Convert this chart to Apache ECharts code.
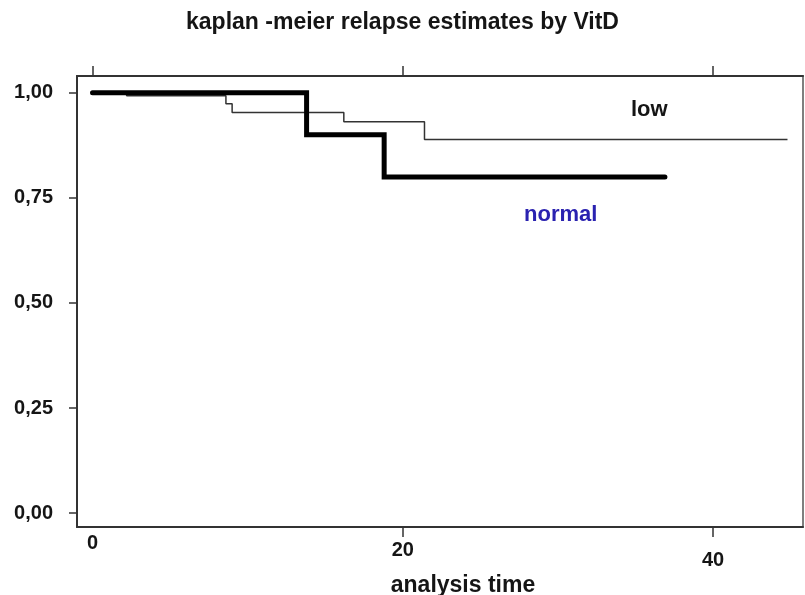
<!DOCTYPE html>
<html>
<head>
<meta charset="utf-8">
<script src="https://cdn.jsdelivr.net/npm/echarts@6/dist/echarts.min.js"></script>
<style>
  html, body { margin: 0; padding: 0; background: #fff; }
  #chart { width: 805px; height: 595px; }
</style>
</head>
<body>
<div id="chart"></div>
<script>
// survival estimates: [time, survival]
const lowCurve = [[0, 1], [2.2, 0.993], [8.6, 0.974], [9.0, 0.953], [16.2, 0.931], [21.4, 0.889], [44.8, 0.889]]
const normalCurve = [[0, 1], [13.8, 0.90], [18.8, 0.80], [36.9, 0.80]]
const xTicks = [0, 20, 40]
const yTicks = [0, 0.25, 0.5, 0.75, 1]

const chart = echarts.init(document.getElementById('chart'))
const font = 'Liberation Sans, Arial, sans-serif'
const axisCol = '#333'
const txt = '#151515'

const option = {
  animation: false,
  title: {
    text: 'kaplan -meier relapse estimates by VitD',
    left: 'center',
    top: 6,
    textStyle: { fontFamily: font, fontSize: 23, fontWeight: 'bold', color: txt }
  },
  grid: {
    left: 77, top: 76, right: 2, bottom: 68,
    outerBoundsMode: 'none', containLabel: false,
    show: true, borderColor: '#555', borderWidth: 1.5
  },
  xAxis: [
    {
      type: 'value', min: -1, max: 45.8, position: 'bottom',
      name: 'analysis time', nameLocation: 'middle', nameGap: 47, nameMoveOverlap: false,
      nameTextStyle: { fontFamily: font, fontSize: 23, fontWeight: 'bold', color: txt, padding: [0, 0, 0, 46] },
      axisLine: { show: true, onZero: false, lineStyle: { color: axisCol, width: 2 } },
      axisTick: { show: true, length: 10, customValues: [20, 40], lineStyle: { color: axisCol, width: 1.5 } },
      axisLabel: {
        customValues: xTicks, margin: 6,
        formatter: v => v === 0 ? '{a|0}' : v === 20 ? '{b|20}' : '{c|40}',
        rich: {
          a: { fontFamily: font, fontSize: 20, fontWeight: 'bold', color: txt, padding: [0, 0, 0, 0] },
          b: { fontFamily: font, fontSize: 20, fontWeight: 'bold', color: txt, padding: [7, 0, 0, 0] },
          c: { fontFamily: font, fontSize: 20, fontWeight: 'bold', color: txt, padding: [17, 0, 0, 0] }
        }
      },
      splitLine: { show: false }
    },
    {
      type: 'value', min: -1, max: 45.8, position: 'top',
      axisLine: { show: true, onZero: false, lineStyle: { color: axisCol, width: 2 } },
      axisTick: { show: true, length: 10, customValues: xTicks, lineStyle: { color: axisCol, width: 1.5 } },
      axisLabel: { show: false },
      splitLine: { show: false }
    }
  ],
  yAxis: {
    type: 'value', min: -0.033, max: 1.04,
    axisLine: { show: true, onZero: false, lineStyle: { color: axisCol, width: 2 } },
    axisTick: { show: true, length: 8, customValues: yTicks, lineStyle: { color: axisCol, width: 1.5 } },
    axisLabel: {
      customValues: yTicks, margin: 24, padding: [5, 0, 0, 0],
      formatter: v => v.toFixed(2).replace('.', ','),
      fontFamily: font, fontSize: 20, fontWeight: 'bold', color: txt
    },
    splitLine: { show: false }
  },
  series: [
    {
      name: 'low', type: 'line', step: 'end', data: lowCurve, showSymbol: false,
      lineStyle: { color: '#333', width: 1.5 }, z: 2
    },
    {
      name: 'normal', type: 'line', step: 'end', data: normalCurve, showSymbol: false,
      lineStyle: { color: '#000', width: 5, cap: 'round', join: 'miter' }, z: 3
    }
  ],
  graphic: [
    { type: 'text', left: 631, top: 99, style: { text: 'low', font: 'bold 22px ' + font, fill: txt } },
    { type: 'text', left: 524, top: 204, style: { text: 'normal', font: 'bold 22px ' + font, fill: '#2a22b0' } }
  ]
}

chart.setOption(option)
</script>
</body>
</html>
